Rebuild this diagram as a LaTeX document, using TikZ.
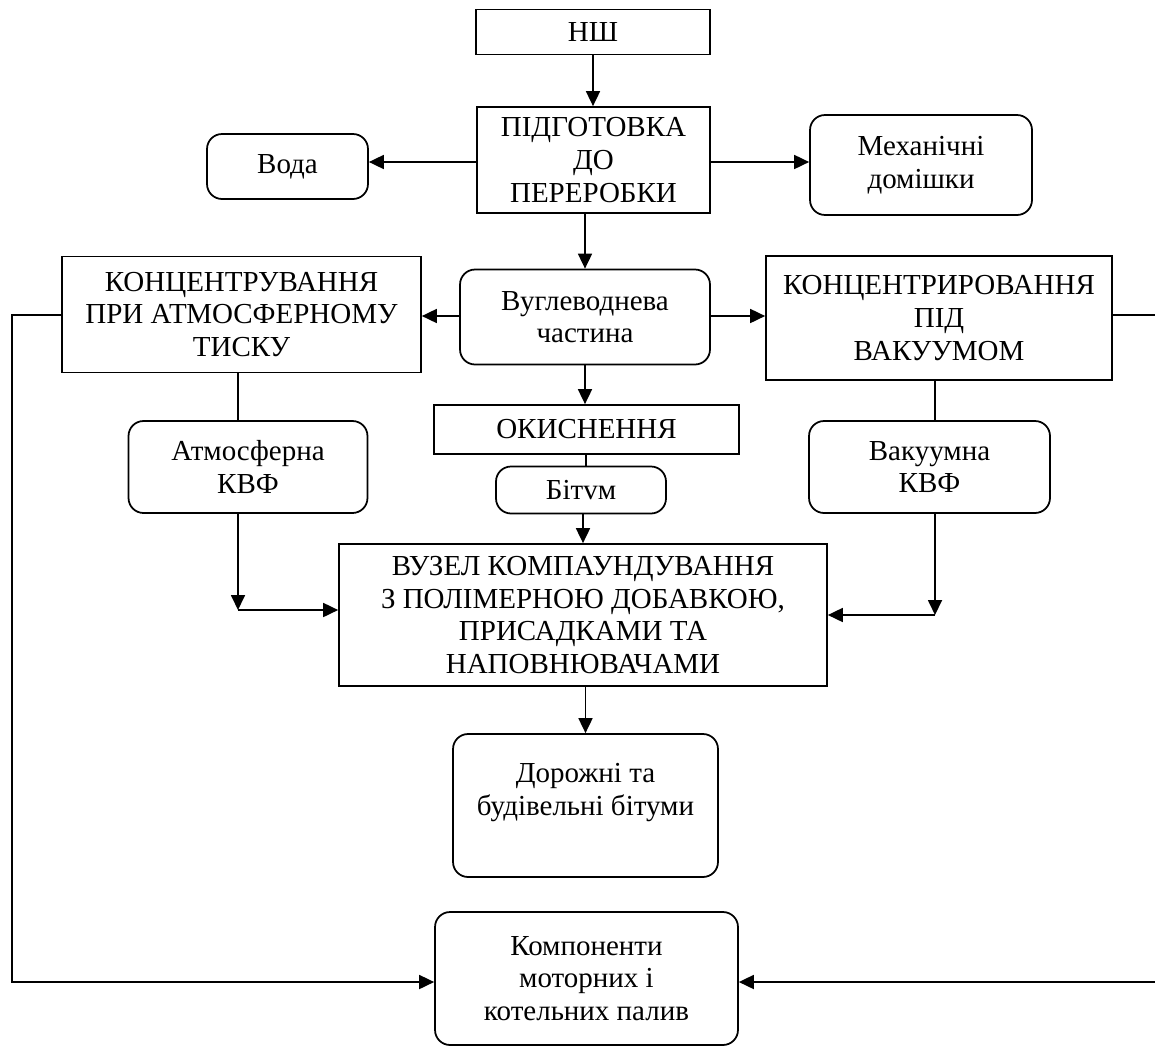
\documentclass[tikz,border=0pt]{standalone}
\usepackage{fontspec}
\setmainfont{Liberation Serif}
\usetikzlibrary{arrows.meta}
\usetikzlibrary{positioning}

\tikzset{
  box/.style={draw, line width=1pt, align=center, inner sep=0pt,
    font=\fontsize{16.5}{18.6}\selectfont},
  rbox/.style={box, rounded corners=0.3cm},
  arr/.style={-{Triangle[length=0.3cm,width=0.28cm]}, line width=1pt},
  ln/.style={line width=1pt}
}

\begin{document}
\begin{tikzpicture}[x=0.02cm, y=-0.02cm]
    \useasboundingbox (0,0) rectangle (1155,1048);
        \node[box, minimum width=4.68cm, minimum height=0.9cm] (nsh) at (593,32) {НШ};
        \node[box, minimum width=4.66cm, minimum height=2.12cm] (prep) at (593.5,160) {ПІДГОТОВКА\\ДО\\ПЕРЕРОБКИ};
        \node[rbox, minimum width=3.22cm, minimum height=1.3cm] (voda) at (287.5,166.5) {Вода};
        \node[rbox, minimum width=4.44cm, minimum height=2cm] (mech) at (921,165) {Механічні\\домішки};
        \node[box, minimum width=7.18cm, minimum height=2.32cm] (atmconc) at (241.5,314.5) {КОНЦЕНТРУВАННЯ\\ПРИ АТМОСФЕРНОМУ\\ТИСКУ};
        \node[rbox, minimum width=5cm, minimum height=1.9cm] (hc) at (585,317) {Вуглеводнева\\частина};
        \node[box, minimum width=6.92cm, minimum height=2.48cm] (vacconc) at (939,318) {КОНЦЕНТРИРОВАННЯ\\ПІД\\ВАКУУМОМ};
        \node[rbox, minimum width=4.78cm, minimum height=1.84cm] (akvf) at (248,467) {Атмосферна\\КВФ};
        \node[rbox, minimum width=4.82cm, minimum height=1.84cm] (vkvf) at (929.5,467) {Вакуумна\\КВФ};
        \node[box, minimum width=6.1cm, minimum height=0.98cm] (ox) at (586.5,429.5) {ОКИСНЕННЯ};
        \node[rbox, minimum width=3.4cm, minimum height=0.94cm] (bit) at (581,490) {Бітvм};
        \node[box, minimum width=9.76cm, minimum height=2.84cm] (vuz) at (583,615) {ВУЗЕЛ КОМПАУНДУВАННЯ\\З ПОЛІМЕРНОЮ ДОБАВКОЮ,\\ПРИСАДКАМИ ТА\\НАПОВНЮВАЧАМИ};
        \node[rbox, minimum width=5.3cm, minimum height=2.86cm] (dor) at (585.5,805.5) {Дорожні та\\будівельні бітуми\\\mbox{}};
        \node[rbox, minimum width=6.06cm, minimum height=2.66cm] (komp) at (586.5,978.5) {Компоненти\\моторних і\\котельних палив};

        \coordinate (lk) at (238,610);
        \coordinate (vk) at (935,615);
        \coordinate (lrail) at (12,315);
        \coordinate (redge) at (1155,315);
        \coordinate (redgelow) at (1155,982);

        \draw[arr] (nsh) -- (nsh |- prep.north);
        \draw[arr] (prep.west |- 0,162) -- (voda.east |- 0,162);
        \draw[arr] (prep.east |- 0,162) -- (mech.west |- 0,162);
        \draw[arr] (prep.south -| hc.north) -- (hc.north);
        \draw[arr] (hc.west |- 0,316) -- (atmconc.east |- 0,316);
        \draw[arr] (hc.east |- 0,316) -- (vacconc.west |- 0,316);
        \draw[arr] (hc.south) -- (hc.south |- ox.north);
        \draw[ln] (ox.south -| 586,0) -- (bit.north -| 586,0);
        \draw[arr] (bit.south -| vuz.north) -- (vuz.north);
        \draw[ln] (atmconc.south -| lk) -- (akvf.north -| lk);
        \draw[arr] (akvf.south -| lk) -- (lk);
        \draw[arr] (lk) -- (vuz.west |- lk);
        \draw[ln] (vacconc.south -| vk) -- (vkvf.north -| vk);
        \draw[arr] (vkvf.south -| vk) -- (vk);
        \draw[arr] (vk) -- (vuz.east |- vk);
        \draw[arr] (vuz.south -| dor.north) -- (dor.north);
        \draw[arr] (atmconc.west |- lrail) -- (lrail) |- (komp.west |- redgelow);
        \draw[ln] (vacconc.east |- redge) -- (redge);
        \draw[arr] (redgelow) -- (komp.east |- redgelow);
    \end{tikzpicture}
\end{document}
